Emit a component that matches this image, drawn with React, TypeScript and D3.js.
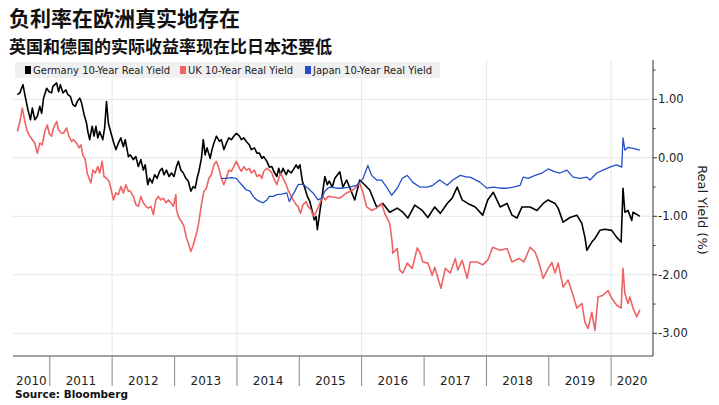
import React from 'react';
import * as d3 from 'd3';

// Decimal-year dates and real yields (%)
const germanyT = [2010.48,2010.52,2010.57,2010.60,2010.65,2010.69,2010.72,2010.76,2010.80,2010.84,2010.87,2010.90,2010.95,2010.99,2011.03,2011.05,2011.11,2011.14,2011.17,2011.21,2011.26,2011.29,2011.33,2011.37,2011.41,2011.44,2011.48,2011.51,2011.55,2011.59,2011.61,2011.64,2011.68,2011.71,2011.74,2011.77,2011.80,2011.85,2011.88,2011.91,2011.94,2011.96,2012.02,2012.06,2012.10,2012.14,2012.18,2012.21,2012.26,2012.29,2012.34,2012.38,2012.42,2012.46,2012.50,2012.53,2012.57,2012.60,2012.64,2012.68,2012.72,2012.76,2012.80,2012.83,2012.87,2012.91,2012.95,2012.99,2013.03,2013.06,2013.10,2013.14,2013.18,2013.22,2013.26,2013.30,2013.33,2013.36,2013.39,2013.43,2013.46,2013.49,2013.52,2013.57,2013.60,2013.63,2013.67,2013.72,2013.75,2013.79,2013.83,2013.87,2013.91,2013.95,2013.99,2014.04,2014.07,2014.11,2014.15,2014.20,2014.23,2014.28,2014.32,2014.36,2014.40,2014.43,2014.48,2014.52,2014.56,2014.59,2014.64,2014.67,2014.70,2014.74,2014.79,2014.82,2014.87,2014.90,2014.95,2014.98,2015.01,2015.05,2015.09,2015.13,2015.17,2015.21,2015.24,2015.27,2015.29,2015.33,2015.37,2015.41,2015.45,2015.48,2015.53,2015.57,2015.65,2015.70,2015.76,2015.89,2015.97,2016.02,2016.13,2016.24,2016.34,2016.45,2016.57,2016.66,2016.74,2016.85,2016.97,2017.06,2017.17,2017.26,2017.37,2017.45,2017.53,2017.61,2017.70,2017.82,2017.94,2018.02,2018.11,2018.22,2018.33,2018.41,2018.49,2018.57,2018.70,2018.81,2018.91,2018.99,2019.10,2019.15,2019.23,2019.34,2019.45,2019.53,2019.58,2019.61,2019.69,2019.74,2019.82,2019.90,2020.01,2020.09,2020.16,2020.19,2020.22,2020.27,2020.33,2020.35,2020.43,2020.46];
const germanyV = [1.08,1.11,1.25,1.08,0.82,0.65,0.85,0.65,0.71,0.88,0.76,1.02,1.19,1.13,1.11,1.22,1.28,1.13,1.25,1.11,1.16,1.08,1.05,0.91,0.88,0.96,1.02,0.94,0.74,0.59,0.45,0.31,0.54,0.37,0.54,0.34,0.45,0.31,0.51,0.96,0.59,0.51,0.28,0.14,0.25,0.34,0.19,0.31,0.02,0.05,-0.03,0.02,-0.15,-0.03,-0.21,-0.12,-0.46,-0.35,-0.43,-0.29,-0.35,-0.23,-0.18,-0.29,-0.21,-0.32,-0.26,-0.32,-0.15,-0.06,-0.21,-0.26,-0.35,-0.40,-0.57,-0.49,-0.52,-0.35,-0.23,-0.01,0.31,0.05,0.17,-0.01,0.14,0.25,0.37,0.28,0.31,0.14,0.25,0.34,0.31,0.37,0.42,0.37,0.31,0.34,0.28,0.22,0.14,0.17,0.08,0.08,-0.01,0.02,-0.06,-0.16,-0.15,-0.23,-0.32,-0.18,-0.29,-0.18,-0.29,-0.21,-0.26,-0.21,-0.12,-0.18,-0.12,-0.40,-0.52,-0.66,-0.75,-0.92,-1.06,-1.00,-1.23,-0.92,-0.63,-0.32,-0.46,-0.40,-0.50,-0.35,-0.24,-0.50,-0.38,-0.72,-0.38,-0.43,-0.55,-0.84,-0.78,-0.93,-0.86,-0.93,-1.03,-0.81,-0.90,-1.02,-0.84,-0.95,-0.78,-0.69,-0.50,-0.72,-0.78,-0.84,-0.98,-0.72,-0.59,-0.84,-0.78,-0.98,-1.03,-0.84,-0.84,-0.90,-0.78,-0.72,-0.78,-0.86,-1.10,-1.02,-0.98,-1.12,-1.36,-1.58,-1.44,-1.38,-1.24,-1.22,-1.24,-1.36,-1.44,-0.52,-0.93,-0.90,-1.07,-0.93,-0.98,-1.00];

const ukT = [2010.48,2010.52,2010.56,2010.60,2010.64,2010.68,2010.72,2010.76,2010.80,2010.84,2010.88,2010.92,2010.96,2010.99,2011.03,2011.06,2011.11,2011.14,2011.19,2011.22,2011.27,2011.30,2011.35,2011.38,2011.43,2011.47,2011.50,2011.53,2011.57,2011.60,2011.63,2011.66,2011.69,2011.73,2011.77,2011.80,2011.84,2011.87,2011.91,2011.95,2011.98,2012.02,2012.06,2012.10,2012.14,2012.18,2012.22,2012.26,2012.29,2012.34,2012.38,2012.42,2012.46,2012.50,2012.54,2012.58,2012.62,2012.66,2012.70,2012.74,2012.78,2012.82,2012.86,2012.90,2012.94,2012.98,2013.02,2013.03,2013.07,2013.11,2013.15,2013.19,2013.23,2013.26,2013.29,2013.33,2013.36,2013.39,2013.43,2013.47,2013.51,2013.55,2013.59,2013.63,2013.67,2013.71,2013.75,2013.79,2013.83,2013.87,2013.91,2013.95,2013.99,2014.04,2014.07,2014.11,2014.15,2014.20,2014.23,2014.28,2014.32,2014.36,2014.40,2014.43,2014.48,2014.52,2014.56,2014.59,2014.64,2014.67,2014.70,2014.74,2014.79,2014.82,2014.87,2014.90,2014.95,2014.98,2015.02,2015.06,2015.11,2015.14,2015.19,2015.22,2015.26,2015.30,2015.34,2015.38,2015.42,2015.46,2015.54,2015.65,2015.76,2015.86,2015.97,2016.02,2016.08,2016.16,2016.24,2016.32,2016.37,2016.45,2016.49,2016.50,2016.57,2016.61,2016.66,2016.73,2016.81,2016.89,2016.93,2016.98,2017.06,2017.13,2017.17,2017.27,2017.34,2017.42,2017.50,2017.54,2017.61,2017.69,2017.74,2017.85,2017.94,2018.02,2018.10,2018.22,2018.33,2018.41,2018.52,2018.60,2018.70,2018.78,2018.83,2018.91,2018.99,2019.05,2019.10,2019.15,2019.23,2019.31,2019.39,2019.45,2019.53,2019.58,2019.63,2019.69,2019.74,2019.79,2019.87,2019.95,2020.01,2020.09,2020.16,2020.19,2020.22,2020.27,2020.30,2020.35,2020.41,2020.46];
const ukV = [0.45,0.62,0.85,0.62,0.45,0.37,0.31,0.25,0.08,0.25,0.22,0.45,0.56,0.42,0.37,0.51,0.62,0.48,0.42,0.42,0.51,0.39,0.28,0.31,0.25,0.17,0.22,0.05,-0.03,-0.26,-0.35,-0.43,-0.21,-0.26,-0.15,-0.26,-0.06,-0.32,-0.35,-0.40,-0.52,-0.72,-0.60,-0.63,-0.49,-0.60,-0.46,-0.57,-0.57,-0.66,-0.80,-0.83,-0.66,-0.77,-0.83,-0.86,-0.83,-0.97,-0.72,-0.66,-0.72,-0.69,-0.77,-0.72,-0.77,-0.83,-0.63,-0.89,-1.03,-1.09,-1.17,-1.37,-1.49,-1.60,-1.52,-1.37,-1.26,-1.09,-0.80,-0.57,-0.52,-0.35,-0.29,-0.12,-0.06,-0.18,-0.35,-0.46,-0.35,-0.21,-0.23,-0.15,-0.06,-0.18,-0.23,-0.15,-0.21,-0.18,-0.26,-0.21,-0.32,-0.29,-0.35,-0.23,-0.18,-0.21,-0.26,-0.35,-0.46,-0.35,-0.26,-0.35,-0.46,-0.55,-0.66,-0.72,-0.80,-0.83,-0.95,-0.80,-0.75,-0.83,-0.89,-1.00,-0.95,-0.86,-0.75,-0.66,-0.72,-0.66,-0.67,-0.69,-0.60,-0.55,-0.43,-0.59,-0.84,-0.90,-0.86,-0.78,-0.95,-1.12,-1.46,-1.63,-1.55,-1.92,-1.97,-1.80,-1.89,-1.54,-1.61,-1.78,-1.80,-2.01,-1.87,-2.23,-1.89,-1.97,-1.72,-1.92,-1.75,-2.06,-1.78,-1.78,-1.83,-1.75,-1.53,-1.58,-1.55,-1.78,-1.72,-1.78,-1.53,-1.61,-1.75,-2.06,-1.89,-1.79,-1.97,-1.80,-2.21,-2.09,-2.35,-2.57,-2.49,-2.81,-2.92,-2.64,-2.95,-2.38,-2.35,-2.27,-2.40,-2.52,-2.57,-1.89,-2.32,-2.49,-2.38,-2.57,-2.72,-2.60];

const japanT = [2013.75,2013.83,2013.91,2013.99,2014.05,2014.10,2014.15,2014.21,2014.26,2014.32,2014.37,2014.42,2014.48,2014.52,2014.58,2014.64,2014.72,2014.80,2014.84,2014.88,2014.93,2014.98,2015.06,2015.14,2015.22,2015.30,2015.36,2015.41,2015.46,2015.49,2015.60,2015.70,2015.81,2015.92,2016.02,2016.10,2016.16,2016.24,2016.32,2016.40,2016.48,2016.57,2016.65,2016.73,2016.82,2016.93,2017.05,2017.14,2017.25,2017.37,2017.46,2017.58,2017.69,2017.74,2017.90,2018.01,2018.11,2018.22,2018.33,2018.43,2018.54,2018.59,2018.67,2018.78,2018.89,2018.99,2019.10,2019.18,2019.29,2019.39,2019.50,2019.61,2019.66,2019.77,2019.87,2019.98,2020.09,2020.17,2020.19,2020.22,2020.27,2020.35,2020.46];
const japanV = [-0.35,-0.35,-0.34,-0.35,-0.43,-0.49,-0.55,-0.57,-0.66,-0.72,-0.75,-0.77,-0.72,-0.66,-0.66,-0.63,-0.62,-0.60,-0.75,-0.66,-0.57,-0.46,-0.45,-0.52,-0.60,-0.72,-0.69,-0.57,-0.52,-0.50,-0.52,-0.52,-0.50,-0.47,-0.36,-0.13,-0.30,-0.38,-0.38,-0.50,-0.64,-0.52,-0.35,-0.30,-0.42,-0.50,-0.50,-0.47,-0.38,-0.47,-0.38,-0.30,-0.33,-0.33,-0.42,-0.52,-0.50,-0.52,-0.52,-0.50,-0.47,-0.33,-0.35,-0.30,-0.26,-0.19,-0.24,-0.26,-0.21,-0.33,-0.35,-0.33,-0.38,-0.26,-0.21,-0.16,-0.12,-0.16,0.34,0.13,0.18,0.16,0.13];

const yearLabels = ['2010','2011','2012','2013','2014','2015','2016','2017','2018','2019','2020'];
const yTicks = [1, 0, -1, -2, -3];
const yMinorTicks = [1.5, 0.5, -0.5, -1.5, -2.5];
const gridYears = [2012, 2014, 2016, 2018, 2020];
const seriesNames = ['Germany 10-Year Real Yield', 'UK 10-Year Real Yield', 'Japan 10-Year Real Yield'];

const title = '负利率在欧洲真实地存在';
const subtitle = '英国和德国的实际收益率现在比日本还要低';
const source = 'Source: Bloomberg';
const yTitle = 'Real Yield (%)';

function dec(t: number): Date {
  const y = Math.floor(t);
  const s = new Date(y, 0, 1).getTime();
  const e = new Date(y + 1, 0, 1).getTime();
  return new Date(s + (t - y) * (e - s));
}

const W = 719, H = 405;
const L = 13, R = 653, T = 60, B = 356;

export default function App() {
  const x = d3.scaleTime().domain([dec(2010.41), dec(2020.67)]).range([L, R]);
  const y = d3.scaleLinear().domain([-3.388, 1.672]).range([B, T]);
  const line = d3.line<[number, number]>().x(d => x(dec(d[0]))).y(d => y(d[1]));
  const mk = (ts: number[], vs: number[]) => ts.map((t, i) => [t, vs[i]] as [number, number]);
  const series = [
    { name: seriesNames[0], data: mk(germanyT, germanyV), color: '#000000', w: 1.6 },
    { name: seriesNames[1], data: mk(ukT, ukV), color: '#ee6464', w: 1.6 },
    { name: seriesNames[2], data: mk(japanT, japanV), color: '#2350c8', w: 1.3 },
  ];
  const font = 'DejaVu Sans, Verdana, sans-serif';
  const cjk = '"Noto Sans CJK SC", sans-serif';
  const [d0, d1] = x.domain();
  const yearStarts = yearLabels.map(s => new Date(+s, 0, 1));
  const legendX = [25, 180, 305];

  return (
    <svg width={W} height={H} style={{ position: 'absolute', left: 0, top: 0, background: '#fff' }}>
      <rect x={0} y={0} width={W} height={H} fill="#fff" />
      <text x={9} y={26} fontFamily={cjk} fontWeight={700} fontSize={21} fill="#111">{title}</text>
      <text x={9} y={53} fontFamily={cjk} fontWeight={700} fontSize={17} fill="#111">{subtitle}</text>

      {yTicks.map(v => (
        <line key={'gy' + v} x1={L} x2={R} y1={y(v)} y2={y(v)} stroke="#e6e6e6" strokeWidth={1} />
      ))}
      {gridYears.map(g => (
        <line key={'gx' + g} x1={x(new Date(g, 0, 1))} x2={x(new Date(g, 0, 1))} y1={T} y2={B} stroke="#e6e6e6" strokeWidth={1} />
      ))}

      <rect x={15} y={62} width={425} height={16} fill="#f0f0f0" />
      {seriesNames.map((n, i) => (
        <g key={n}>
          <rect x={legendX[i]} y={66} width={6} height={8} fill={series[i].color} />
          <text x={legendX[i] + 8} y={74} fontFamily={font} fontSize={10} fill="#222">{n}</text>
        </g>
      ))}

      {series.map(s => (
        <path key={s.name} d={line(s.data) || ''} fill="none" stroke={s.color} strokeWidth={s.w} strokeLinejoin="round" />
      ))}

      <line x1={R} x2={R} y1={T} y2={B} stroke="#333" strokeWidth={1} />
      {yTicks.map(v => (
        <g key={'yt' + v}>
          <line x1={R} x2={R + 4} y1={y(v)} y2={y(v)} stroke="#333" />
          <text x={R + 5} y={y(v) + 4} fontFamily={font} fontSize={11.5} fill="#222">{v.toFixed(2)}</text>
        </g>
      ))}
      {yMinorTicks.map(v => (
        <line key={'ym' + v} x1={R} x2={R + 2.5} y1={y(v)} y2={y(v)} stroke="#333" />
      ))}
      <text transform={`translate(${698},${(T + B) / 2 + 2}) rotate(90)`} textAnchor="middle" fontFamily={font} fontSize={13} fill="#222">{yTitle}</text>

      <line x1={L} x2={R} y1={B} y2={B} stroke="#444" strokeWidth={1} />
      {yearStarts.slice(1).map((d, i) => (
        <line key={'sep' + i} x1={x(d)} x2={x(d)} y1={B} y2={386} stroke="#888" strokeWidth={1} />
      ))}
      {yearStarts.map((d, i) => {
        const a = Math.max(+d, +d0);
        const b = Math.min(+new Date(d.getFullYear() + 1, 0, 1), +d1);
        const cx = (x(new Date(a)) + x(new Date(b))) / 2;
        return (
          <text key={'yl' + i} x={cx} y={385} textAnchor="middle" fontFamily={font} fontSize={12} fill="#222">{yearLabels[i]}</text>
        );
      })}
      <text x={15} y={398} fontFamily={font} fontWeight={700} fontSize={10.5} fill="#111">{source}</text>
    </svg>
  );
}
